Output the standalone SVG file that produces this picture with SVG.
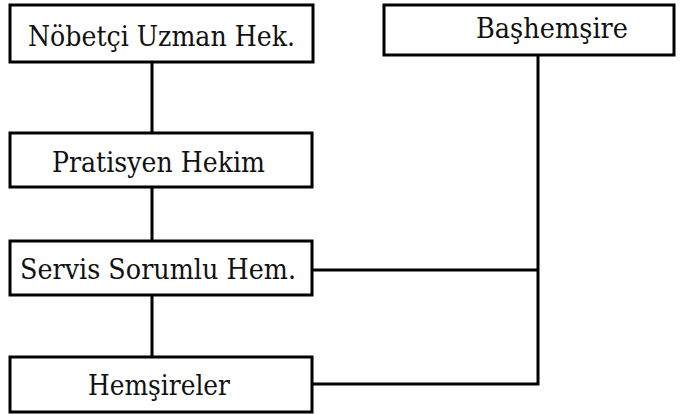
<svg xmlns="http://www.w3.org/2000/svg" width="680" height="414" viewBox="0 0 680 414">
  <style>
    .box { fill: #fff; stroke: #000; stroke-width: 3; }
    .lbl { font-family: 'DejaVu Serif', serif; font-size: 28px; fill: #111; }
    .wire { fill: none; stroke: #000; stroke-width: 3; }
  </style>
  <rect width="680" height="414" fill="#fff"/>

  <g id="connectors">
    <line class="wire" x1="152" y1="62" x2="152" y2="133"/>
    <line class="wire" x1="152" y1="187" x2="152" y2="241"/>
    <line class="wire" x1="152" y1="295" x2="152" y2="357"/>
    <polyline class="wire" points="538,55 538,384 312,384"/>
    <line class="wire" x1="312" y1="270" x2="538" y2="270"/>
  </g>

  <g id="nobetci">
    <rect class="box" x="10" y="5" width="303" height="57"/>
    <text class="lbl" x="28" y="46" textLength="267" lengthAdjust="spacingAndGlyphs">Nöbetçi Uzman Hek.</text>
  </g>

  <g id="bashemsire">
    <rect class="box" x="384" y="5" width="290" height="50"/>
    <text class="lbl" x="476" y="38" textLength="152" lengthAdjust="spacingAndGlyphs">Başhemşire</text>
  </g>

  <g id="pratisyen">
    <rect class="box" x="10" y="133" width="302" height="54"/>
    <text class="lbl" x="52" y="172" textLength="213" lengthAdjust="spacingAndGlyphs">Pratisyen Hekim</text>
  </g>

  <g id="servis">
    <rect class="box" x="10" y="241" width="302" height="54"/>
    <text class="lbl" x="20" y="279" textLength="276" lengthAdjust="spacingAndGlyphs">Servis Sorumlu Hem.</text>
  </g>

  <g id="hemsireler">
    <rect class="box" x="10" y="357" width="302" height="55"/>
    <text class="lbl" x="88" y="395" textLength="142" lengthAdjust="spacingAndGlyphs">Hemşireler</text>
  </g>
</svg>
